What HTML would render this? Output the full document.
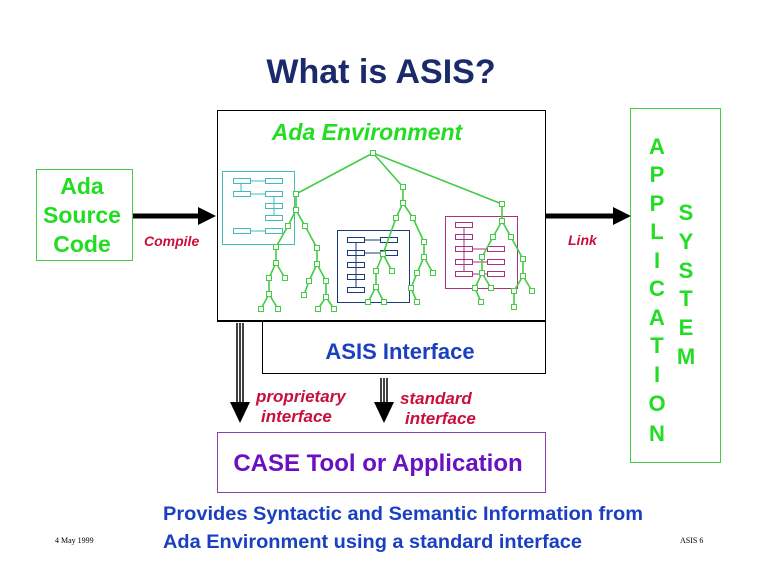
<!DOCTYPE html>
<html><head><meta charset="utf-8"><style>
html,body{margin:0;padding:0;background:#fff;}
svg{display:block;font-family:"Liberation Sans",sans-serif;}
</style></head><body>
<svg id="s" width="762" height="588" viewBox="0 0 762 588" xmlns="http://www.w3.org/2000/svg">
<text x="381" y="83" text-anchor="middle" font-size="34" font-weight="bold" fill="#1a2a6a">What is ASIS?</text>
<rect x="217.5" y="110.5" width="328" height="210" fill="none" stroke="#000" stroke-width="1"/>
<text x="367" y="140" text-anchor="middle" font-size="23" font-weight="bold" font-style="italic" fill="#22dd22">Ada Environment</text>
<rect x="262.5" y="321.5" width="283" height="52" fill="none" stroke="#000" stroke-width="1"/>
<line x1="217" y1="321" x2="546" y2="321" stroke="#000" stroke-width="2"/>
<text x="400" y="359" text-anchor="middle" font-size="22" font-weight="bold" fill="#1a3fc0">ASIS Interface</text>
<rect x="217.5" y="432.5" width="328" height="60" fill="none" stroke="#8a3fb0" stroke-width="1"/>
<text x="378" y="471" text-anchor="middle" font-size="24" font-weight="bold" fill="#6a10c0">CASE Tool or Application</text>
<rect x="36.5" y="169.5" width="96" height="91" fill="none" stroke="#44cc44" stroke-width="1"/>
<g font-size="23" font-weight="bold" fill="#22dd22" text-anchor="middle">
<text x="82" y="194">Ada</text><text x="82" y="223">Source</text><text x="82" y="252">Code</text></g>
<line x1="133" y1="216" x2="200" y2="216" stroke="#000" stroke-width="5"/>
<polygon points="198,207 216,216 198,225" fill="#000"/>
<text x="144" y="246" font-size="14" font-weight="bold" font-style="italic" fill="#c8103c">Compile</text>
<line x1="546" y1="216" x2="616" y2="216" stroke="#000" stroke-width="5"/>
<polygon points="613,207 631,216 613,225" fill="#000"/>
<text x="568" y="245" font-size="14" font-weight="bold" font-style="italic" fill="#c8103c">Link</text>
<rect x="630.5" y="108.5" width="90" height="354" fill="none" stroke="#44cc44" stroke-width="1"/>
<g font-size="22" font-weight="bold" fill="#22dd22" text-anchor="middle">
<text x="657" y="154">A</text><text x="657" y="182">P</text><text x="657" y="211">P</text><text x="657" y="239">L</text><text x="657" y="268">I</text><text x="657" y="296">C</text><text x="657" y="325">A</text><text x="657" y="353">T</text><text x="657" y="382">I</text><text x="657" y="411">O</text><text x="657" y="441">N</text>
<text x="686" y="220">S</text><text x="686" y="249">Y</text><text x="686" y="278">S</text><text x="686" y="306">T</text><text x="686" y="335">E</text><text x="686" y="364">M</text></g>
<g stroke="#000" stroke-width="1.5">
<line x1="237" y1="323" x2="237" y2="402"/><line x1="240" y1="323" x2="240" y2="402"/><line x1="243" y1="323" x2="243" y2="402"/>
<line x1="381" y1="378" x2="381" y2="402"/><line x1="384" y1="378" x2="384" y2="402"/><line x1="387" y1="378" x2="387" y2="402"/>
</g>
<polygon points="230,402 250,402 240,423" fill="#000"/>
<polygon points="374,402 394,402 384,423" fill="#000"/>
<g font-size="17" font-weight="bold" font-style="italic" fill="#c8103c">
<text x="256" y="402">proprietary</text><text x="261" y="422">interface</text>
<text x="400" y="404">standard</text><text x="405" y="424">interface</text></g>
<g font-size="19" font-weight="bold" fill="#1a3fc0">
<text x="163" y="520" textLength="480" lengthAdjust="spacingAndGlyphs">Provides Syntactic and Semantic Information from</text>
<text x="163" y="548" textLength="419" lengthAdjust="spacingAndGlyphs">Ada Environment using a standard interface</text></g>
<text x="55" y="543" font-size="8" font-family="Liberation Serif,serif">4 May 1999</text>
<text x="680" y="543" font-size="8" font-family="Liberation Serif,serif">ASIS 6</text>
<rect x="222.5" y="171.5" width="72" height="73" fill="none" stroke="#44bbbb"/>
<rect x="337.5" y="230.5" width="72" height="72" fill="none" stroke="#1a3a7a"/>
<rect x="445.5" y="216.5" width="72" height="72" fill="none" stroke="#aa3080"/>
<g id="tree"></g>
</svg>
<script>
var g=document.getElementById('tree'),NS='http://www.w3.org/2000/svg';
function el(t,a){var e=document.createElementNS(NS,t);for(var k in a)e.setAttribute(k,a[k]);g.appendChild(e);}
function sr2(x,c,rows){rows.forEach(function(r){el('rect',{x:x+.5,y:r-2.5,width:17,height:5,fill:'none',stroke:c});});}
sr2(233,'#44bbbb',[181,194,231]);sr2(265,'#44bbbb',[181,194,206,218,231]);
el('line',{x1:250,y1:181,x2:265,y2:181,stroke:'#44bbbb'});el('line',{x1:250,y1:194,x2:265,y2:194,stroke:'#44bbbb'});el('line',{x1:250,y1:231,x2:265,y2:231,stroke:'#44bbbb'});
el('line',{x1:241,y1:184,x2:241,y2:191,stroke:'#44bbbb'});el('line',{x1:274,y1:197,x2:274,y2:215,stroke:'#44bbbb'});
sr2(347,'#1a3a7a',[240,253,265,277,290]);sr2(380,'#1a3a7a',[240,253]);
el('line',{x1:365,y1:240,x2:380,y2:240,stroke:'#1a3a7a'});el('line',{x1:365,y1:253,x2:380,y2:253,stroke:'#1a3a7a'});
el('line',{x1:356,y1:243,x2:356,y2:287,stroke:'#1a3a7a'});
sr2(455,'#aa3080',[225,237,249,262,274]);sr2(487,'#aa3080',[249,262,274]);
el('line',{x1:473,y1:249,x2:487,y2:249,stroke:'#aa3080'});el('line',{x1:473,y1:262,x2:487,y2:262,stroke:'#aa3080'});el('line',{x1:473,y1:274,x2:487,y2:274,stroke:'#aa3080'});
el('line',{x1:464,y1:228,x2:464,y2:271,stroke:'#aa3080'});
var E=[[373,153,296,194],[373,153,403,187],[373,153,502,204],[296,194,296,210],[296,210,288,226],[296,210,305,226],[288,226,276,247],[276,247,276,263],[276,263,269,278],[276,263,285,278],[269,278,269,294],[269,294,261,309],[269,294,278,309],[305,226,317,248],[317,248,317,264],[317,264,309,281],[317,264,326,281],[309,281,304,295],[326,281,326,297],[326,297,318,309],[326,297,334,309],
[403,187,403,203],[403,203,396,218],[403,203,413,218],[396,218,383,254],[383,254,376,271],[383,254,392,271],[376,271,376,287],[376,287,368,302],[376,287,384,302],[413,218,424,242],[424,242,424,257],[424,257,417,273],[424,257,433,273],[417,273,411,288],[411,288,417,302],
[502,204,502,221],[502,221,493,237],[502,221,511,237],[493,237,482,257],[482,257,482,273],[482,273,475,288],[482,273,491,288],[475,288,481,302],[511,237,523,259],[523,259,523,276],[523,276,514,291],[523,276,532,291],[514,291,514,307]];
var P={};
E.forEach(function(e){el('line',{x1:e[0],y1:e[1],x2:e[2],y2:e[3],stroke:'#44cc44','stroke-width':1.6});P[e[0]+','+e[1]]=1;P[e[2]+','+e[3]]=1;});
for(var k in P){var p=k.split(',');el('rect',{x:+p[0]-2.5,y:+p[1]-2.5,width:5,height:5,fill:'#fff',stroke:'#44cc44','stroke-width':1});}
</script>
</body></html>
